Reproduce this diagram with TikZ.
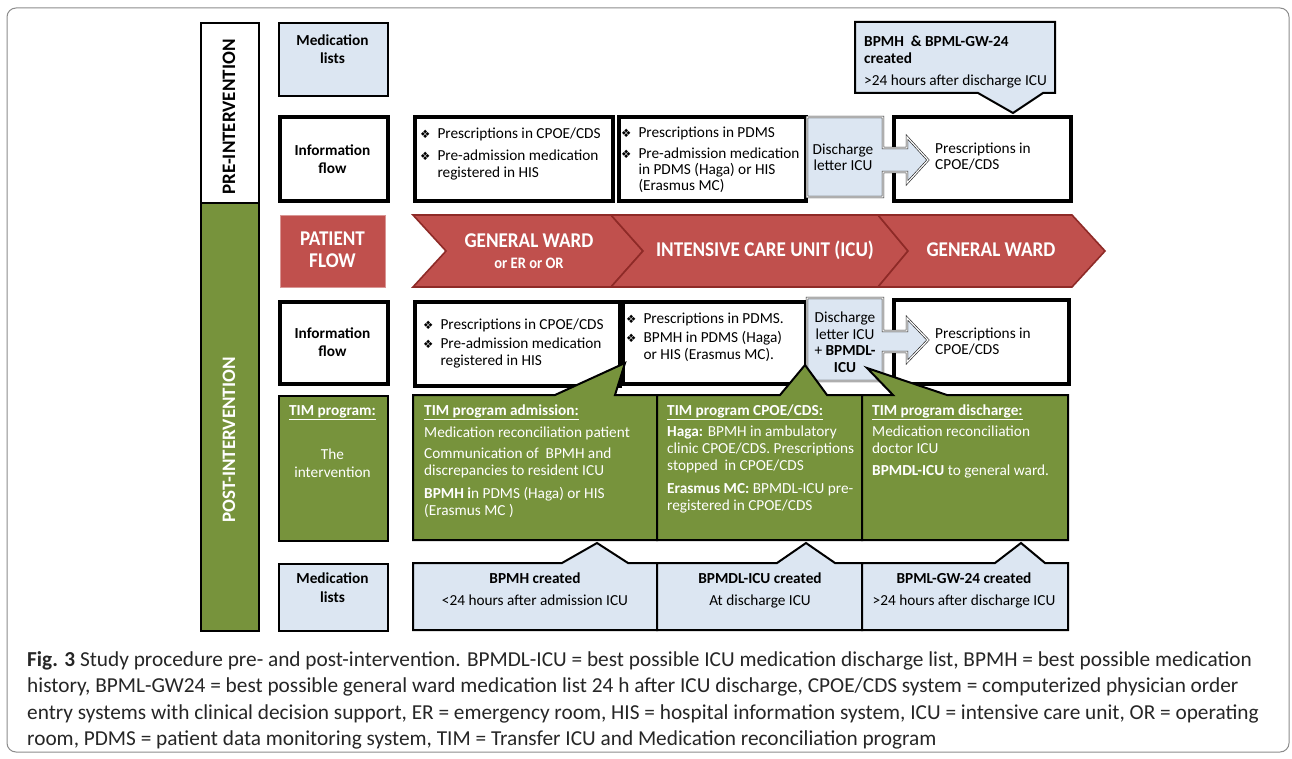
\documentclass[tikz,border=0pt]{standalone}
\usepackage{fontspec}
\setmainfont{Carlito}
\newfontfamily\symfont{DejaVu Sans}
\newfontfamily\condfont[FakeStretch=0.91]{Carlito}
\newfontfamily\capfont{Carlito}
\definecolor{lblue}{HTML}{DCE6F2}
\definecolor{tgreen}{HTML}{77933C}
\definecolor{tred}{HTML}{C0504D}
\definecolor{dred}{HTML}{8E2A27}
\newcommand\bul{{\symfont\fontsize{11.5}{11}\selectfont\char"2756}}
\newcommand\mytab[2][l]{\begin{tabular}[t]{@{}#1@{}}#2\end{tabular}}
\newcommand\bultab[1]{\begin{tabular}[t]{@{}l@{\hspace{7pt}}l@{}}#1\end{tabular}}
\newcommand\dbl[1]{\draw[line width=0.8pt] ([shift={(3.5,3.5)}]#1.north west) rectangle ([shift={(-3.5,-3.5)}]#1.south east);}
\newcommand\fsz[1]{\fontsize{15.3}{#1}\selectfont}
\begin{document}
\begin{tikzpicture}[x=1pt,y=-1pt,
  hdr/.style={draw=black, line width=2.2pt, anchor=north west, inner sep=0pt},
  dbox/.style={draw=black, line width=2.6pt, fill=white, anchor=north west, inner sep=0pt},
  txt/.style={anchor=base west, inner sep=0pt, font=\fsz{17}},
  ctxt/.style={anchor=base, inner sep=0pt, font=\fsz{17}},
  btxt/.style={anchor=base, inner sep=0pt, font=\bfseries\fsz{18}},
  wtxt/.style={txt, text=white},
  chev/.style={fill=tred, draw=dred, line width=1.6pt, line join=miter},
  chtxt/.style={anchor=base, inner sep=0pt, text=white, font=\condfont\bfseries\fontsize{21}{22}\selectfont},
  gcall/.style={fill=tgreen, draw=black, line width=2pt, line join=miter},
  bcall/.style={fill=lblue, draw=black, line width=2pt, line join=miter},
  disc/.style={fill=lblue, draw=black!90, line width=0.6pt, double=white, double distance=1.2pt, line join=miter},
  captxt/.style={anchor=base west, inner sep=0pt, text=black!85, font=\capfont\fontsize{21.3}{21}\selectfont}
]
\useasboundingbox (0,0) rectangle (1292,759);
\fill[white] (0,0) rectangle (1292,759);
\draw[black!45, line width=1pt, rounded corners=9] (7,8) rectangle (1289,752);

% left column
\node[hdr, fill=white, minimum width=58, minimum height=180] (pre) at (200,22) {};
\node[rotate=90, inner sep=0pt, font=\bfseries\fontsize{19}{19}\selectfont] (pretxt) at (229,117) {PRE-INTERVENTION};
\node[hdr, fill=tgreen, minimum width=58, minimum height=428] (post) at (200,202) {};
\node[rotate=90, inner sep=0pt, text=white, font=\bfseries\fontsize{19}{19}\selectfont] (posttxt) at (229,440) {POST-INTERVENTION};

% row headers
\node[hdr, fill=lblue, minimum width=109, minimum height=73] (ml1) at (278,22) {};
\node[btxt] (ml1t) at (332.5,45.5) {\mytab[c]{Medication\\lists}};
\node[dbox, minimum width=109, minimum height=85] (if1) at (278,115) {};
\dbl{if1}
\node[btxt] (if1t) at (332.5,155.5) {\mytab[c]{Information\\flow}};
\node[fill=tred, draw=tred!60!white, line width=1pt, anchor=north west, minimum width=105, minimum height=72, inner sep=0pt] (pf) at (280,215) {};
\node[chtxt, font=\condfont\bfseries\fontsize{21}{22}\selectfont] (pft) at (332.5,245.5) {\mytab[c]{PATIENT\\FLOW}};
\node[dbox, minimum width=109, minimum height=83] (if2) at (278,300) {};
\dbl{if2}
\node[btxt] (if2t) at (332.5,338.5) {\mytab[c]{Information\\flow}};
\node[hdr, fill=tgreen, minimum width=109, minimum height=145] (tim) at (278,395) {};
\node[btxt, text=white] (timt) at (332.5,415.5) {\underline{TIM program:}};
\node[ctxt, text=white, font=\fsz{18}] (timi) at (332.5,459.5) {\mytab[c]{The\\intervention}};
\node[hdr, fill=lblue, minimum width=109, minimum height=67] (ml2) at (278,563) {};
\node[btxt, font=\bfseries\fsz{19}] (ml2t) at (332.5,583.5) {\mytab[c]{Medication\\lists}};

% pre-intervention information flow
\node[dbox, minimum width=199, minimum height=85] (i1a) at (413,115) {};
\dbl{i1a}
\node[txt] (i1at) at (420,138.3) {\bultab{\bul & Prescriptions in CPOE/CDS\\[5pt] \bul & Pre-admission medication\\ & registered in HIS}};
\node[dbox, minimum width=188, minimum height=85] (i1b) at (617,115) {};
\dbl{i1b}
\node[txt, font=\fsz{16}] (i1bt) at (621,137.3) {\bultab{\bul & Prescriptions in PDMS\\[5pt] \bul & Pre-admission medication\\ & in PDMS (Haga) or HIS\\ & (Erasmus MC)}};
\node[dbox, minimum width=178, minimum height=85] (i1c) at (892,115) {};
\dbl{i1c}
\node[txt, font=\fsz{16}] (i1ct) at (935,153.3) {\mytab{Prescriptions in\\CPOE/CDS}};
\draw[disc] (807,117) -- (883,117) -- (883,148) -- (907,148) -- (907,137) -- (928,160) -- (907,183) -- (907,172) -- (883,172) -- (883,197) -- (807,197) -- cycle;
\node[ctxt, font=\fsz{16}] (d1t) at (843,154.3) {\mytab[c]{Discharge\\letter ICU}};

% top medication list callout
\draw[bcall] (855,22) -- (1055,22) -- (1055,93) -- (1043,93) -- (1013,113) -- (978,93) -- (855,93) -- cycle;
\node[txt] (topml) at (864,46.3) {\mytab{\textbf{BPMH\ \ \& BPML-GW-24}\\\textbf{created}\\[5pt]>24 hours after discharge ICU}};

% patient flow chevrons
\draw[chev] (413,215) -- (611,215) -- (643,251) -- (611,287) -- (413,287) -- (446,251) -- cycle;
\draw[chev] (611,215) -- (878,215) -- (908,251) -- (878,287) -- (611,287) -- (643,251) -- cycle;
\draw[chev] (878,215) -- (1072,215) -- (1105,251) -- (1072,287) -- (878,287) -- (908,251) -- cycle;
\node[chtxt] (c1t) at (529,247.5) {GENERAL WARD};
\node[chtxt, font=\condfont\bfseries\fontsize{16}{16}\selectfont] (c1s) at (529,268.5) {or ER or OR};
\node[chtxt] (c2t) at (765,257) {INTENSIVE CARE UNIT (ICU)};
\node[chtxt] (c3t) at (991,257) {GENERAL WARD};

% post-intervention information flow
\node[dbox, minimum width=206, minimum height=85] (i2a) at (413,300) {};
\dbl{i2a}
\node[txt] (i2at) at (423,329.3) {\bultab{\bul & Prescriptions in CPOE/CDS\\[2pt] \bul & Pre-admission medication\\ & registered in HIS}};
\node[dbox, minimum width=184, minimum height=83] (i2b) at (621,300) {};
\dbl{i2b}
\node[txt] (i2bt) at (626,323.3) {\bultab{\bul & Prescriptions in PDMS.\\[2pt] \bul & BPMH in PDMS (Haga)\\ & or HIS (Erasmus MC).}};
\node[dbox, minimum width=176, minimum height=85] (i2c) at (892,298) {};
\dbl{i2c}
\node[txt, font=\fsz{16}] (i2ct) at (935,338.3) {\mytab{Prescriptions in\\CPOE/CDS}};
\draw[disc] (807,298) -- (883,298) -- (883,331) -- (907,331) -- (907,318) -- (928,340) -- (907,362) -- (907,352) -- (883,352) -- (883,381) -- (807,381) -- cycle;
\node[ctxt, font=\fsz{16.7}] (d2t) at (845,322.3) {\mytab[c]{Discharge\\letter ICU\\+ \textbf{BPMDL-}\\\textbf{ICU}}};

% TIM program callouts
\draw[gcall] (413,395) -- (555,395) -- (625,363) -- (615,395) -- (657,395) -- (657,540) -- (413,540) -- cycle;
\draw[gcall] (657,395) -- (780,395) -- (805,365) -- (827,395) -- (862,395) -- (862,540) -- (657,540) -- cycle;
\draw[gcall] (862,395) -- (893,395) -- (867,368) -- (947,395) -- (1068,395) -- (1068,540) -- (862,540) -- cycle;
\node[wtxt] (g1t) at (424,415.3) {\mytab{\underline{\textbf{TIM program admission:}}\\[5pt]
  Medication reconciliation patient\\[4pt]
  Communication of\ \ BPMH and\\
  discrepancies to resident ICU\\[6pt]
  \textbf{BPMH i}n PDMS (Haga) or HIS\\
  (Erasmus MC )}};
\node[wtxt] (g2t) at (667,415.3) {\mytab{\underline{\textbf{TIM program CPOE/CDS:}}\\[4pt]
  \textbf{Haga:} BPMH in ambulatory\\
  clinic CPOE/CDS. Prescriptions\\
  stopped\ \ in CPOE/CDS\\[6pt]
  \textbf{Erasmus MC:} BPMDL-ICU pre-\\
  registered in CPOE/CDS}};
\node[wtxt] (g3t) at (872,415.3) {\mytab{\underline{\textbf{TIM program discharge:}}\\[4pt]
  Medication reconciliation\\
  doctor ICU\\[5pt]
  \textbf{BPMDL-ICU} to general ward.}};

% post-intervention medication list callouts
\draw[bcall] (413,563) -- (562,563) -- (597,543) -- (628,563) -- (657,563) -- (657,630) -- (413,630) -- cycle;
\draw[bcall] (657,563) -- (777,563) -- (806,543) -- (835,563) -- (862,563) -- (862,630) -- (657,630) -- cycle;
\draw[bcall] (862,563) -- (995,563) -- (1021,543) -- (1045,563) -- (1068,563) -- (1068,630) -- (862,630) -- cycle;
\node[ctxt, font=\fsz{22}] (m1t) at (535,583.3) {\mytab[c]{\textbf{BPMH created}\\<24 hours after admission ICU}};
\node[ctxt, font=\fsz{22}] (m2t) at (760,583.3) {\mytab[c]{\textbf{BPMDL-ICU created}\\At discharge ICU}};
\node[ctxt, font=\fsz{22}] (m3t) at (964,583.3) {\mytab[c]{\textbf{BPML-GW-24 created}\\>24 hours after discharge ICU}};

% caption
\node[captxt] (cap1) at (27,666) {\textbf{Fig. 3} Study procedure pre- and post-intervention. BPMDL-ICU = best possible ICU medication discharge list, BPMH = best possible medication};
\node[captxt] (cap2) at (27,692) {history, BPML-GW24 = best possible general ward medication list 24 h after ICU discharge, CPOE/CDS system = computerized physician order};
\node[captxt] (cap3) at (27,719) {entry systems with clinical decision support, ER = emergency room, HIS = hospital information system, ICU = intensive care unit, OR = operating};
\node[captxt] (cap4) at (27,745) {room, PDMS = patient data monitoring system, TIM = Transfer ICU and Medication reconciliation program};
\end{tikzpicture}
\end{document}
